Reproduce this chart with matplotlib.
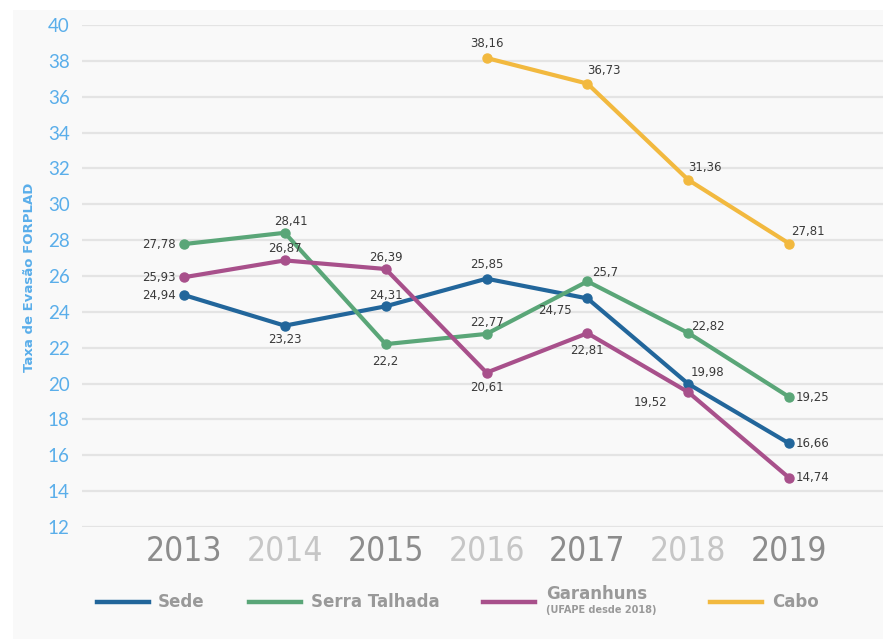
import numpy as np
import matplotlib
matplotlib.use("Agg")
from matplotlib import pyplot as plt
from matplotlib.lines import Line2D
from matplotlib.patches import Rectangle

years = ["2013", "2014", "2015", "2016", "2017", "2018", "2019"]
sede = [24.94, 23.23, 24.31, 25.85, 24.75, 19.98, 16.66]
serra_talhada = [27.78, 28.41, 22.2, 22.77, 25.7, 22.82, 19.25]
garanhuns = [25.93, 26.87, 26.39, 20.61, 22.81, 19.52, 14.74]
cabo = [np.nan, np.nan, np.nan, 38.16, 36.73, 31.36, 27.81]
yticks = list(range(12, 41, 2))

colors = {"Sede": "#22669b", "Serra Talhada": "#5aa678",
          "Garanhuns": "#a8508b", "Cabo": "#f2b93f"}

# label offsets in pixels (dx, dy, ha)
off_sede = [(-8, 0, "right"), (0, -14, "center"), (0, 11, "center"), (0, 14, "center"),
            (-32, -12, "center"), (19, 11, "center"), (6, 0, "left")]
off_serra = [(-8, 0, "right"), (6, 11, "center"), (0, -17, "center"), (0, 11, "center"),
             (18, 9, "center"), (20, 7, "center"), (6, 0, "left")]
off_gara = [(-8, 0, "right"), (0, 12, "center"), (0, 12, "center"), (0, -15, "center"),
            (0, -17, "center"), (-38, -10, "center"), (6, 0, "left")]
off_cabo = [None, None, None, (0, 14, "center"), (17, 13, "center"),
            (17, 12, "center"), (19, 12, "center")]

W, H = 883, 639
fig = plt.figure(figsize=(W / 100, H / 100), dpi=100)
fig.patch.set_facecolor("white")
fig.patches.append(Rectangle((13 / W, 0), 1, 1 - 10 / H, transform=fig.transFigure,
                             facecolor="#f9f9f9", edgecolor="none", zorder=-5))

ax = fig.add_axes([82 / W, 1 - 527 / H, 801 / W, 502 / H])
ax.set_facecolor("none")
x = np.arange(len(years))

series = [("Sede", sede, off_sede), ("Serra Talhada", serra_talhada, off_serra),
          ("Garanhuns", garanhuns, off_gara), ("Cabo", cabo, off_cabo)]
for name, vals, offs in series:
    ax.plot(x, vals, color=colors[name], lw=3, marker="o", ms=6.5, zorder=3,
            solid_capstyle="round")
    for xi, v, o in zip(x, vals, offs):
        if o is None or np.isnan(v):
            continue
        ax.annotate(str(v).replace(".", ","), (xi, v), xytext=(o[0], o[1]),
                    textcoords="offset pixels", ha=o[2], va="center",
                    fontsize=8.5, color="#3a3a3a", family="DejaVu Sans", zorder=4)

ax.set_xlim(-1.01, 6.93)
ax.set_ylim(12, 40)
ax.set_yticks(yticks)
ax.set_yticklabels([str(t) for t in yticks], color="#5aaeea", fontsize=13.5,
                   family="Lato")
ax.yaxis.grid(True, color="#e4e4e4", lw=1.6)
ax.set_axisbelow(True)
ax.tick_params(axis="y", length=0, pad=9)
ax.set_xticks(x)
ax.set_xticklabels(years, fontsize=24, family="DejaVu Sans", fontstretch="condensed")
for i, lab in enumerate(ax.get_xticklabels()):
    lab.set_color("#8c8c8c" if i % 2 == 0 else "#c6c6c6")
ax.tick_params(axis="x", length=0, pad=6)
for s in ax.spines.values():
    s.set_visible(False)

fig.text(30 / W, 1 - 277 / H, "Taxa de Evasão FORPLAD", rotation=90, ha="center",
         va="center", color="#5aaeea", fontsize=9.5, fontweight="bold", family="DejaVu Sans")

# legend
leg = [("Sede", 97, 158), ("Serra Talhada", 249, 311), ("Garanhuns", 483, 546), ("Cabo", 710, 772)]
ly = 1 - 602 / H
for name, x0, tx in leg:
    fig.add_artist(Line2D([x0 / W, (x0 + 52) / W], [ly, ly], color=colors[name], lw=3.2,
                          transform=fig.transFigure))
    if name == "Garanhuns":
        fig.text(tx / W, 1 - 594 / H, name, ha="left", va="center", color="#999999",
                 fontsize=12, fontweight="bold", family="DejaVu Sans")
        fig.text(tx / W, 1 - 610 / H, "(UFAPE desde 2018)", ha="left", va="center",
                 color="#999999", fontsize=7, fontweight="bold", family="DejaVu Sans")
    else:
        fig.text(tx / W, ly, name, ha="left", va="center", color="#999999",
                 fontsize=12, fontweight="bold", family="DejaVu Sans")

fig.savefig("out.png", dpi=100)
